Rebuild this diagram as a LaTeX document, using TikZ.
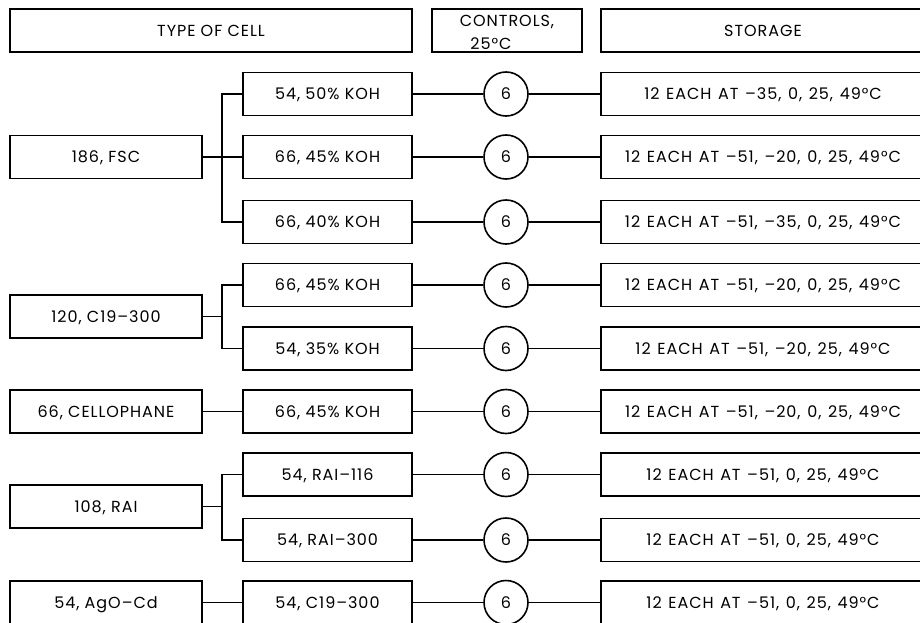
\documentclass[tikz,border=0pt]{standalone}
\usepackage{fontspec}
\setmainfont{Poppins}[LetterSpace=6]
\newcommand\widespaces{\spaceskip=6.6pt\relax}
\begin{document}
\begin{tikzpicture}[x=1pt,y=-1pt,
  font=\fontsize{16}{22}\selectfont,
  box/.style={draw, line width=1.8pt, minimum height=43pt, inner sep=0pt, anchor=center, text height=11.2pt, text depth=0pt},
  lbox/.style={box, minimum width=192pt},
  mbox/.style={box, minimum width=169pt},
  sbox/.style={box, minimum width=324pt},
  ctl/.style={circle, draw, line width=1.6pt, minimum size=44pt, inner sep=0pt, text height=11.2pt, text depth=0pt},
  conn/.style={line width=1.3pt}]
\useasboundingbox (0,0) rectangle (920,623);
\clip (0,0) rectangle (920,623);
% headers
\node[box, minimum width=402pt] (hType) at (211,30.5) {TYPE OF CELL};
\node[draw, line width=1.8pt, minimum width=150pt, minimum height=43pt, inner sep=0pt, align=center, text height=38.2pt, text depth=0pt, font=\fontsize{16}{23}\selectfont] (hCtrl) at (507,30.5) {CONTROLS,\\\hspace*{-32pt}25°C};
\node[box, minimum width=324pt] (hStor) at (763,30.5) {STORAGE};
% left boxes
\node[lbox] (l1) at (106,157) {186, FSC};
\node[lbox] (l2) at (106,316.5) {120, C19–300};
\node[lbox] (l3) at (106,411.5) {66, CELLOPHANE};
\node[lbox] (l4) at (106,506.5) {108, RAI};
\node[lbox] (l5) at (106,602.5) {54, AgO–Cd};
% middle boxes
\node[mbox] (m1) at (327.5,94) {54, 50\% KOH};
\node[mbox] (m2) at (327.5,157) {66, 45\% KOH};
\node[mbox] (m3) at (327.5,222) {66, 40\% KOH};
\node[mbox] (m4) at (327.5,285) {66, 45\% KOH};
\node[mbox] (m5) at (327.5,348.5) {54, 35\% KOH};
\node[mbox] (m6) at (327.5,411.5) {66, 45\% KOH};
\node[mbox] (m7) at (327.5,474.5) {54, RAI–116};
\node[mbox] (m8) at (327.5,540) {54, RAI–300};
\node[mbox] (m9) at (327.5,602.5) {54, C19–300};
% controls
\node[ctl] (c1) at (506,94) {6};
\node[ctl] (c2) at (506,157) {6};
\node[ctl] (c3) at (506,222) {6};
\node[ctl] (c4) at (506,285) {6};
\node[ctl] (c5) at (506,348.5) {6};
\node[ctl] (c6) at (506,411.5) {6};
\node[ctl] (c7) at (506,474.5) {6};
\node[ctl] (c8) at (506,540) {6};
\node[ctl] (c9) at (506,602.5) {6};
% storage
\node[sbox] (s1) at (763,94) {\widespaces 12 EACH AT –35, 0, 25, 49°C};
\node[sbox] (s2) at (763,157) {\widespaces 12 EACH AT –51, –20, 0, 25, 49°C};
\node[sbox] (s3) at (763,222) {\widespaces 12 EACH AT –51, –35, 0, 25, 49°C};
\node[sbox] (s4) at (763,285) {\widespaces 12 EACH AT –51, –20, 0, 25, 49°C};
\node[sbox] (s5) at (763,348.5) {\widespaces 12 EACH AT –51, –20, 25, 49°C};
\node[sbox] (s6) at (763,411.5) {\widespaces 12 EACH AT –51, –20, 0, 25, 49°C};
\node[sbox] (s7) at (763,474.5) {\widespaces 12 EACH AT –51, 0, 25, 49°C};
\node[sbox] (s8) at (763,540) {\widespaces 12 EACH AT –51, 0, 25, 49°C};
\node[sbox] (s9) at (763,602.5) {\widespaces 12 EACH AT –51, 0, 25, 49°C};
% row connectors
\foreach \i in {1,...,9} { \draw[conn] (m\i) -- (c\i) -- (s\i); }
% branches
\coordinate (b1) at (222,157);
\coordinate (b2) at (222,316.5);
\coordinate (b3) at (222,506.5);
\draw[conn] (l1) -- (b1);
\draw[conn] (m1.west) -| (b1) |- (m3.west);
\draw[conn] (b1) -- (m2.west);
\draw[conn] (l2) -- (b2);
\draw[conn] (m4.west) -| (b2) |- (m5.west);
\draw[conn] (l3) -- (m6);
\draw[conn] (l4) -- (b3);
\draw[conn] (m7.west) -| (b3) |- (m8.west);
\draw[conn] (l5) -- (m9);
\end{tikzpicture}
\end{document}
